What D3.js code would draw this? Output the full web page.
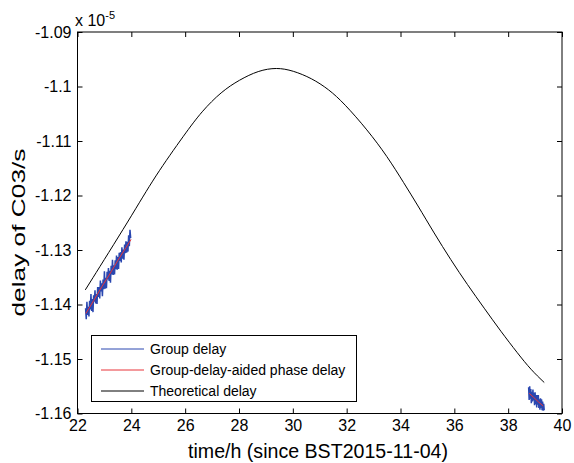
<!DOCTYPE html>
<html><head><meta charset="utf-8">
<script src="https://cdn.jsdelivr.net/npm/d3@7"></script>
<style>body{margin:0;background:#fff}svg{display:block}text{font-family:"Liberation Sans",Arial,sans-serif;fill:#000}</style>
</head><body><svg id="c" width="574" height="463"></svg>
<script>
// ---- data (values in units of 1e-5 s) ----
const xTicks = [22,24,26,28,30,32,34,36,38,40];
const yTicks = [-1.09,-1.10,-1.11,-1.12,-1.13,-1.14,-1.15,-1.16];
const yTickLabels = ["-1.09","-1.1","-1.11","-1.12","-1.13","-1.14","-1.15","-1.16"];
const seriesNames = ["Group delay","Group-delay-aided phase delay","Theoretical delay"];

const theoTime = [22.29,24.00,24.87,26.01,26.61,27.35,28.01,28.72,29.40,30.00,30.70,31.33,31.90,32.77,33.51,34.13,34.63,35.25,35.87,36.49,37.11,37.73,38.35,38.85,39.34];
const theoDelay = [-1.13732,-1.12385,-1.11651,-1.10857,-1.10459,-1.10092,-1.09879,-1.09707,-1.09651,-1.09707,-1.09848,-1.10050,-1.10306,-1.10796,-1.11284,-1.11774,-1.12172,-1.12692,-1.13182,-1.13640,-1.14068,-1.14495,-1.14894,-1.15200,-1.15431];

const groupTimeA = [22.300,22.325,22.350,22.375,22.400,22.425,22.450,22.475,22.500,22.525,22.550,22.575,22.600,22.625,22.650,22.675,22.700,22.725,22.750,22.775,22.800,22.825,22.850,22.875,22.900,22.925,22.950,22.975,23.000,23.025,23.050,23.075,23.100,23.125,23.150,23.175,23.200,23.225,23.250,23.275,23.300,23.325,23.350,23.375,23.400,23.425,23.450,23.475,23.500,23.525,23.550,23.575,23.600,23.625,23.650,23.675,23.700,23.725,23.750,23.775,23.800,23.825,23.850,23.875,23.900,23.925,23.950,23.975];
const groupDelayA = [-1.1407,-1.1427,-1.1395,-1.1419,-1.1404,-1.1422,-1.1393,-1.1409,-1.1381,-1.1412,-1.1390,-1.1414,-1.1383,-1.1395,-1.1374,-1.1398,-1.1381,-1.1399,-1.1368,-1.1386,-1.1368,-1.1389,-1.1356,-1.1376,-1.1361,-1.1385,-1.1354,-1.1372,-1.1339,-1.1371,-1.1351,-1.1370,-1.1340,-1.1354,-1.1333,-1.1357,-1.1338,-1.1360,-1.1329,-1.1345,-1.1318,-1.1346,-1.1328,-1.1345,-1.1319,-1.1335,-1.1310,-1.1336,-1.1313,-1.1335,-1.1305,-1.1320,-1.1304,-1.1323,-1.1295,-1.1316,-1.1299,-1.1318,-1.1290,-1.1306,-1.1284,-1.1305,-1.1285,-1.1303,-1.1273,-1.1293,-1.1263,-1.1278];
const groupTimeB = [38.76,38.78,38.80,38.82,38.84,38.86,38.88,38.90,38.92,38.94,38.96,38.98,39.00,39.02,39.04,39.06,39.08,39.10,39.12,39.14,39.16,39.18,39.20,39.22,39.24,39.26,39.28,39.30,39.32,39.34];
const groupDelayB = [-1.1552,-1.1575,-1.1550,-1.1573,-1.1555,-1.1581,-1.1560,-1.1578,-1.1556,-1.1576,-1.1562,-1.1585,-1.1561,-1.1583,-1.1566,-1.1589,-1.1566,-1.1584,-1.1566,-1.1590,-1.1574,-1.1593,-1.1572,-1.1590,-1.1574,-1.1594,-1.1578,-1.1595,-1.1582,-1.1594];

const phaseTimeA = [22.31,22.60,22.90,23.20,23.50,23.80,23.99];
const phaseDelayA = [-1.14165,-1.13930,-1.13675,-1.13440,-1.13190,-1.12955,-1.12807];
const phaseTimeB = [38.78,38.95,39.12,39.30];
const phaseDelayB = [-1.15629,-1.15705,-1.15785,-1.15862];

// ---- layout ----
const L = 77.5, T = 32, R = 562, B = 413.5;
const svg = d3.select("#c");
const x = d3.scaleLinear().domain([22,40]).range([L,R]);
const y = d3.scaleLinear().domain([-1.16,-1.09]).range([B,T]);
const colBlue = "#2a47b0", colRed = "#e8353a", colBlack = "#000";

const zip = (a,b) => a.map((v,i)=>[v,b[i]]);
const line = d3.line().x(d=>x(d[0])).y(d=>y(d[1]));

const g = svg.append("g");
// theoretical
g.append("path").attr("d", d3.line().x(d=>x(d[0])).y(d=>y(d[1])).curve(d3.curveBasis)(zip(theoTime,theoDelay)))
 .attr("fill","none").attr("stroke",colBlack).attr("stroke-width",1);
// group delay
[[groupTimeA,groupDelayA],[groupTimeB,groupDelayB]].forEach(([t,v])=>{
  g.append("path").attr("d", line(zip(t,v))).attr("fill","none").attr("stroke",colBlue).attr("stroke-width",1.5);
});
[[phaseTimeA,phaseDelayA],[phaseTimeB,phaseDelayB]].forEach(([t,v])=>{
  g.append("path").attr("d", line(zip(t,v))).attr("fill","none").attr("stroke",colRed).attr("stroke-width",1);
});

// axes (ticks inside, box)
const fs = 16;
const axB = d3.axisBottom(x).tickValues(xTicks).tickSize(-5).tickPadding(6).tickFormat(d3.format("d"));
const axT = d3.axisTop(x).tickValues(xTicks).tickSize(-5).tickFormat("");
const axLft = d3.axisLeft(y).tickValues(yTicks).tickSize(-5).tickPadding(6).tickFormat((d,i)=>yTickLabels[i]);
const axRt = d3.axisRight(y).tickValues(yTicks).tickSize(-5).tickFormat("");
function style(sel){
  sel.select(".domain").remove();
  sel.selectAll("line").attr("stroke","#000");
  sel.selectAll("text").attr("font-size",fs).attr("font-family","Liberation Sans, Arial, sans-serif").attr("fill","#000");
}
svg.append("g").attr("transform",`translate(0,${B})`).call(axB).call(style);
svg.append("g").attr("transform",`translate(0,${T})`).call(axT).call(style);
svg.append("g").attr("transform",`translate(${L},0)`).call(axLft).call(style);
svg.append("g").attr("transform",`translate(${R},0)`).call(axRt).call(style);
svg.append("rect").attr("x",L).attr("y",T).attr("width",R-L).attr("height",B-T)
  .attr("fill","none").attr("stroke","#000").attr("stroke-width",1);

// exponent
const ex = svg.append("text").attr("x",75).attr("y",26).attr("font-size",16);
ex.append("tspan").text("x 10");
ex.append("tspan").attr("dy",-7).attr("font-size",11).text("-5");

// axis titles
svg.append("text").attr("x",318).attr("y",458).attr("text-anchor","middle").attr("font-size",20)
  .attr("textLength",260).attr("lengthAdjust","spacingAndGlyphs")
  .text("time/h (since BST2015-11-04)");
svg.append("text").attr("transform",`translate(25,232.5) rotate(-90)`).attr("text-anchor","middle").attr("font-size",18)
  .attr("textLength",168).attr("lengthAdjust","spacingAndGlyphs")
  .text("delay of C03/s");

// legend
const lg = svg.append("g");
lg.append("rect").attr("x",91.5).attr("y",335.5).attr("width",265).attr("height",66)
  .attr("fill","#fff").attr("stroke","#000").attr("stroke-width",1);
const lcols = [colBlue,colRed,colBlack];
const rowY = [349,370,391];
seriesNames.forEach((n,i)=>{
  lg.append("line").attr("x1",101).attr("x2",144).attr("y1",rowY[i]).attr("y2",rowY[i])
    .attr("stroke",lcols[i]).attr("stroke-width",1);
  lg.append("text").attr("x",150).attr("y",rowY[i]).attr("dy","0.35em").attr("font-size",14).text(n);
});
</script></body></html>
